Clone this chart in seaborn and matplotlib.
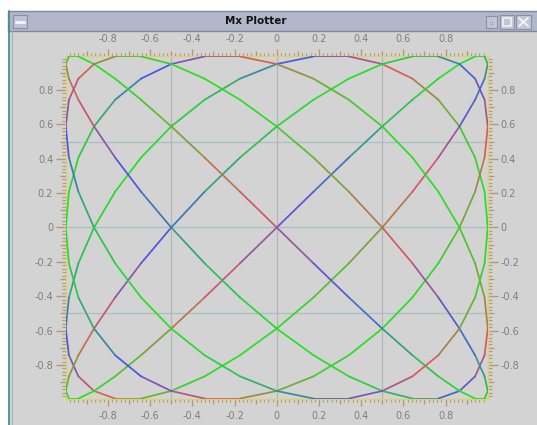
import matplotlib
matplotlib.use("Agg")
import matplotlib.pyplot as plt
from matplotlib.colors import LinearSegmentedColormap
from matplotlib.patches import Rectangle
from matplotlib.lines import Line2D
import pandas as pd
import seaborn as sns

# ---- data: vertices of the plotted curve ----
curve_x = [
 1.000, 0.985, 0.940, 0.866, 0.766, 0.643, 0.500, 0.342, 0.174, 0.000, -0.174, -0.342, -0.500, -0.643, -0.766, -0.866, -0.940, -0.985,
 -1.000, -0.985, -0.940, -0.866, -0.766, -0.643, -0.500, -0.342, -0.174, 0.000, 0.174, 0.342, 0.500, 0.643, 0.766, 0.866, 0.940, 0.985,
 1.000, 0.985, 0.940, 0.866, 0.766, 0.643, 0.500, 0.342, 0.174, 0.000, -0.174, -0.342, -0.500, -0.643, -0.766, -0.866, -0.940, -0.985,
 -1.000, -0.985, -0.940, -0.866, -0.766, -0.643, -0.500, -0.342, -0.174, 0.000, 0.174, 0.342, 0.500, 0.643, 0.766, 0.866, 0.940, 0.985,
 1.000, 0.985, 0.940, 0.866, 0.766, 0.643, 0.500, 0.342, 0.174, 0.000, -0.174, -0.342, -0.500, -0.643, -0.766, -0.866, -0.940, -0.985,
 -1.000, -0.985, -0.940, -0.866, -0.766, -0.643, -0.500, -0.342, -0.174, 0.000, 0.174, 0.342, 0.500, 0.643, 0.766, 0.866, 0.940, 0.985,
 1.000, 0.985, 0.940, 0.866, 0.766, 0.643, 0.500, 0.342, 0.174, 0.000, -0.174, -0.342, -0.500, -0.643, -0.766, -0.866, -0.940, -0.985,
 -1.000, -0.985, -0.940, -0.866, -0.766, -0.643, -0.500, -0.342, -0.174, 0.000, 0.174, 0.342, 0.500, 0.643, 0.766, 0.866, 0.940, 0.985,
 1.000, 0.985, 0.940, 0.866, 0.766, 0.643, 0.500, 0.342, 0.174, 0.000, -0.174, -0.342, -0.500, -0.643, -0.766, -0.866, -0.940, -0.985,
 -1.000, -0.985, -0.940, -0.866, -0.766, -0.643, -0.500, -0.342, -0.174, 0.000, 0.174, 0.342, 0.500, 0.643, 0.766, 0.866, 0.940, 0.985,
]
curve_y = [
 0.000, 0.208, 0.407, 0.588, 0.743, 0.866, 0.951, 0.995, 0.995, 0.951, 0.866, 0.743, 0.588, 0.407, 0.208,
 0.000, -0.208, -0.407, -0.588, -0.743, -0.866, -0.951, -0.995, -0.995, -0.951, -0.866, -0.743, -0.588, -0.407, -0.208,
 0.000, 0.208, 0.407, 0.588, 0.743, 0.866, 0.951, 0.995, 0.995, 0.951, 0.866, 0.743, 0.588, 0.407, 0.208,
 0.000, -0.208, -0.407, -0.588, -0.743, -0.866, -0.951, -0.995, -0.995, -0.951, -0.866, -0.743, -0.588, -0.407, -0.208,
 0.000, 0.208, 0.407, 0.588, 0.743, 0.866, 0.951, 0.995, 0.995, 0.951, 0.866, 0.743, 0.588, 0.407, 0.208,
 0.000, -0.208, -0.407, -0.588, -0.743, -0.866, -0.951, -0.995, -0.995, -0.951, -0.866, -0.743, -0.588, -0.407, -0.208,
 0.000, 0.208, 0.407, 0.588, 0.743, 0.866, 0.951, 0.995, 0.995, 0.951, 0.866, 0.743, 0.588, 0.407, 0.208,
 0.000, -0.208, -0.407, -0.588, -0.743, -0.866, -0.951, -0.995, -0.995, -0.951, -0.866, -0.743, -0.588, -0.407, -0.208,
 0.000, 0.208, 0.407, 0.588, 0.743, 0.866, 0.951, 0.995, 0.995, 0.951, 0.866, 0.743, 0.588, 0.407, 0.208,
 0.000, -0.208, -0.407, -0.588, -0.743, -0.866, -0.951, -0.995, -0.995, -0.951, -0.866, -0.743, -0.588, -0.407, -0.208,
 0.000, 0.208, 0.407, 0.588, 0.743, 0.866, 0.951, 0.995, 0.995, 0.951, 0.866, 0.743, 0.588, 0.407, 0.208,
 0.000, -0.208, -0.407, -0.588, -0.743, -0.866, -0.951, -0.995, -0.995, -0.951, -0.866, -0.743, -0.588, -0.407, -0.208,
]
# third coordinate of each vertex, shown through the line colour
curve_z = [
 1.000, 0.970, 0.883, 0.743, 0.559, 0.342, 0.105, -0.139, -0.375, -0.588,
 -0.766, -0.899, -0.978, -0.999, -0.961, -0.866, -0.719, -0.530, -0.309, -0.070,
 0.174, 0.407, 0.616, 0.788, 0.914, 0.985, 0.998, 0.951, 0.848, 0.695,
 0.500, 0.276, 0.035, -0.208, -0.438, -0.643, -0.809, -0.927, -0.990, -0.995,
 -0.940, -0.829, -0.669, -0.469, -0.242, 0.000, 0.242, 0.469, 0.669, 0.829,
 0.940, 0.995, 0.990, 0.927, 0.809, 0.643, 0.438, 0.208, -0.035, -0.276,
 -0.500, -0.695, -0.848, -0.951, -0.998, -0.985, -0.914, -0.788, -0.616, -0.407,
 -0.174, 0.070, 0.309, 0.530, 0.719, 0.866, 0.961, 0.999, 0.978, 0.899,
 0.766, 0.588, 0.375, 0.139, -0.105, -0.342, -0.559, -0.743, -0.883, -0.970,
 -1.000, -0.970, -0.883, -0.743, -0.559, -0.342, -0.105, 0.139, 0.375, 0.588,
 0.766, 0.899, 0.978, 0.999, 0.961, 0.866, 0.719, 0.530, 0.309, 0.070,
 -0.174, -0.407, -0.616, -0.788, -0.914, -0.985, -0.998, -0.951, -0.848, -0.695,
 -0.500, -0.276, -0.035, 0.208, 0.438, 0.643, 0.809, 0.927, 0.990, 0.995,
 0.940, 0.829, 0.669, 0.469, 0.242, 0.000, -0.242, -0.469, -0.669, -0.829,
 -0.940, -0.995, -0.990, -0.927, -0.809, -0.643, -0.438, -0.208, 0.035, 0.276,
 0.500, 0.695, 0.848, 0.951, 0.998, 0.985, 0.914, 0.788, 0.616, 0.407,
 0.174, -0.070, -0.309, -0.530, -0.719, -0.866, -0.961, -0.999, -0.978, -0.899,
 -0.766, -0.588, -0.375, -0.139, 0.105, 0.342, 0.559, 0.743, 0.883, 0.970,
]

tick_major = [-0.8, -0.6, -0.4, -0.2, 0, 0.2, 0.4, 0.6, 0.8]
tick_labels = ["-0.8", "-0.6", "-0.4", "-0.2", "0", "0.2", "0.4", "0.6", "0.8"]
tick_mid = [-0.9, -0.7, -0.5, -0.3, -0.1, 0.1, 0.3, 0.5, 0.7, 0.9]
grid_pos = [-0.5, 0, 0.5]

W, H = 537, 425
fig = plt.figure(figsize=(W / 100, H / 100), dpi=100)
sns.set_style("white")
fig.patch.set_facecolor("#d3d3d3")


def fx(px):
    return px / W


def fy(py):
    return 1 - py / H


def frect(x0, y0, x1, y1, **kw):
    fig.add_artist(Rectangle((fx(x0), fy(y1)), fx(x1) - fx(x0), fy(y0) - fy(y1),
                             transform=fig.transFigure, **kw))


def fline(xa, ya, **kw):
    fig.add_artist(Line2D([fx(v) for v in xa], [fy(v) for v in ya], transform=fig.transFigure, **kw))


# ---- window chrome ----
frect(0, 0, W, 11, color="white", zorder=0)
frect(0, 0, 8, H, color="white", zorder=0)
frect(8, 11, W + 2, 31, facecolor="#b2b6ca", edgecolor="#7d879e", lw=1, zorder=1)
fline([8.5, 8.5], [11, H], color="#4f8a90", lw=1.3, zorder=2)
fline([11.5, 11.5], [31, H], color="#9fb4ba", lw=0.8, zorder=2)
frect(13, 15, 27, 28, facecolor="#bec2d4", edgecolor="#8a90a8", lw=0.8, zorder=2)
fline([16, 24], [21.5, 21.5], color="#f2f3f8", lw=2.2, zorder=3)
frect(486, 16, 497, 28, facecolor="#c2c6d6", edgecolor="#8a90a8", lw=0.8, zorder=2)
frect(490, 22, 492, 24, facecolor="#f0f0f5", edgecolor="#8a90a8", lw=0.5, zorder=3)
frect(500, 15, 514, 29, facecolor="#c2c6d6", edgecolor="#8a90a8", lw=0.8, zorder=2)
frect(503, 18, 511, 26, facecolor="none", edgecolor="#f4f4f8", lw=1.1, zorder=3)
frect(516, 15, 531, 29, facecolor="#c2c6d6", edgecolor="#8a90a8", lw=0.8, zorder=2)
fline([519, 528], [18, 26], color="#f4f4f8", lw=1.3, zorder=3)
fline([519, 528], [26, 18], color="#f4f4f8", lw=1.3, zorder=3)
fig.text(fx(256), fy(21.5), "Mx Plotter", ha="center", va="center", fontsize=7.5,
         fontweight="bold", color="#111111", zorder=4)

# ---- plot axes ----
ax = fig.add_axes([fx(65.75), fy(399.4), fx(422), (399.4 - 55.6) / H])
ax.set_facecolor("#d3d3d3")

for g in grid_pos:
    ax.axvline(g, color="#b3b7b7", lw=0.9, zorder=1)
    ax.axhline(g, color="#a7c0c0", lw=0.9, zorder=1)

n = len(curve_x)
xs = curve_x + [curve_x[0]]
ys = curve_y + [curve_y[0]]
rows = []
for i in range(n):
    for j in (i, i + 1):
        rows.append({"seg": f"s{i:03d}", "x": xs[j], "y": ys[j]})
df = pd.DataFrame(rows)

# cyclic colour map for the third coordinate: green -> blue -> red -> green
cmap = LinearSegmentedColormap.from_list(
    "zmap", [(0.0, "#26e026"), (1 / 3, "#4655e8"), (2 / 3, "#e25858"), (1.0, "#26e026")])
# each segment takes the colour of the vertex it starts from
pal = {f"s{i:03d}": cmap((curve_z[i] + 1) / 2) for i in range(n)}

sns.lineplot(data=df, x="x", y="y", hue="seg", palette=pal, units="seg", estimator=None,
             sort=False, legend=False, linewidth=1.25, ax=ax, zorder=3)

ax.set_xlim(-1, 1)
ax.set_ylim(-1, 1)
ax.set_xlabel("")
ax.set_ylabel("")
for s in ax.spines.values():
    s.set_color("#dccf76")
    s.set_linewidth(1.0)

tick_col = "#b59a68"
ax.set_xticks(tick_major)
ax.set_xticklabels(tick_labels)
ax.set_yticks(tick_major)
ax.set_yticklabels(tick_labels)
minor = [round(-0.98 + 0.02 * k, 2) for k in range(99)]
ax.set_xticks(minor, minor=True)
ax.set_yticks(minor, minor=True)
ax.xaxis.set_tick_params(which="major", direction="out", length=5, width=1, color=tick_col,
                         labelsize=7, labelcolor="#7e7e7e", pad=3.6,
                         top=True, bottom=True, labeltop=True, labelbottom=True)
ax.yaxis.set_tick_params(which="major", direction="out", length=7.5, width=1, color=tick_col,
                         labelsize=7, labelcolor="#7e7e7e", pad=1.5,
                         left=True, right=True, labelleft=True, labelright=True)
ax.xaxis.set_tick_params(which="minor", direction="out", length=2.5, width=0.8, color=tick_col,
                         top=True, bottom=True)
ax.yaxis.set_tick_params(which="minor", direction="out", length=3.2, width=0.8, color=tick_col,
                         left=True, right=True)
for side in ("top", "bottom"):
    sa = ax.secondary_xaxis(side)
    sa.set_xticks(tick_mid)
    sa.tick_params(length=3.6, width=0.9, color=tick_col, labelbottom=False, labeltop=False)
    for s in sa.spines.values():
        s.set_visible(False)
for side in ("left", "right"):
    sa = ax.secondary_yaxis(side)
    sa.set_yticks(tick_mid)
    sa.tick_params(length=4.5, width=0.9, color=tick_col, labelleft=False, labelright=False)
    for s in sa.spines.values():
        s.set_visible(False)

fig.savefig("out.png", dpi=100, facecolor=fig.get_facecolor())
